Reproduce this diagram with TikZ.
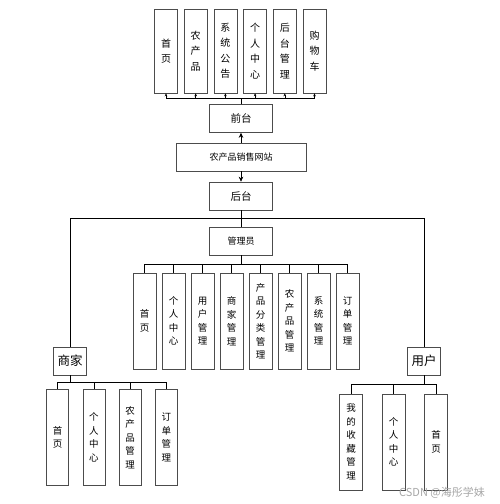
\documentclass[tikz,border=0pt]{standalone}
\usepackage{fontspec}
\setmainfont{Noto Sans CJK SC}
\usetikzlibrary{positioning,ext.paths.ortho,arrows.meta}

\begin{document}
\begin{tikzpicture}[
    x=1pt,y=-1pt,on grid,>={Stealth[length=5pt,width=4.5pt]},
    line width=.6pt,
    smallarrow/.style={-{Stealth[length=3pt,width=2.6pt]}},
    topbox/.style={draw=black!70,minimum width=23pt,minimum height=84pt,inner sep=0pt,align=center,font=\fontsize{10}{15.5}\selectfont},
    colbox/.style={draw=black!70,minimum width=23pt,minimum height=96pt,inner sep=0pt,align=center,font=\fontsize{9.5}{13.5}\selectfont},
    mainbox/.style={draw=black!70,minimum width=63pt,minimum height=28pt,inner sep=0pt,font=\fontsize{10.5}{12}\selectfont},
    rolebox/.style={draw=black!70,minimum width=33pt,minimum height=28pt,inner sep=0pt,font=\fontsize{12.5}{14}\selectfont}
]
    \useasboundingbox (0,0) rectangle (499,504);
    %Middle column
    \node[mainbox,minimum width=130pt,font=\fontsize{9}{11}\selectfont] (web) at (241,157) {农产品销售网站};
    \node[mainbox,above=38.5pt of web] (qian) {前台};
    \node[mainbox,below=39pt of web] (hou) {后台};
    \node[mainbox,below=45pt of hou,font=\fontsize{9}{11}\selectfont] (admin) {管理员};
    \draw[->] (web) -- (qian);
    \draw[->] (web) -- (hou);
    \draw (hou) -- (admin);
    %Front pages
    \node[topbox,above left=67.5pt and 75pt of qian] (F-1) {首\\页};
    \node[topbox,right=29.7pt of F-1] (F-2) {农\\产\\品};
    \node[topbox,right=29.7pt of F-2] (F-3) {系\\统\\公\\告};
    \node[topbox,right=29.7pt of F-3] (F-4) {个\\人\\中\\心};
    \node[topbox,right=29.7pt of F-4] (F-5) {后\\台\\管\\理};
    \node[topbox,right=29.7pt of F-5] (F-6) {购\\物\\车};
    \draw[smallarrow] (qian.north) |-| (F-1.south);
    \draw[smallarrow] (qian.north) |-| (F-2.south);
    \draw[smallarrow] (qian.north) |-| (F-3.south);
    \draw[smallarrow] (qian.north) |-| (F-4.south);
    \draw[smallarrow] (qian.north) |-| (F-5.south);
    \draw[smallarrow] (qian.north) |-| (F-6.south);
    %Admin pages
    \node[colbox,below left=80pt and 96.5pt of admin] (A-1) {首\\页};
    \node[colbox,right=29pt of A-1] (A-2) {个\\人\\中\\心};
    \node[colbox,right=29pt of A-2] (A-3) {用\\户\\管\\理};
    \node[colbox,right=29pt of A-3] (A-4) {商\\家\\管\\理};
    \node[colbox,right=29pt of A-4] (A-5) {产\\品\\分\\类\\管\\理};
    \node[colbox,right=29pt of A-5] (A-6) {农\\产\\品\\管\\理};
    \node[colbox,right=29pt of A-6] (A-7) {系\\统\\管\\理};
    \node[colbox,right=29pt of A-7] (A-8) {订\\单\\管\\理};
    \draw (admin.south) |-| (A-1.north);  \draw (admin.south) |-| (A-2.north);
    \draw (admin.south) |-| (A-3.north);  \draw (admin.south) |-| (A-4.north);
    \draw (admin.south) |-| (A-5.north);  \draw (admin.south) |-| (A-6.north);
    \draw (admin.south) |-| (A-7.north);  \draw (admin.south) |-| (A-8.north);
    %Roles
    \node[rolebox,below left=165pt and 171pt of hou] (shang) {商家};
    \node[rolebox,below right=165pt and 183pt of hou] (user) {用户};
    \draw (hou.south) |-|[ratio=0.058] (shang.north);
    \draw (hou.south) |-|[ratio=0.058] (user.north);
    %Merchant pages
    \node[colbox,minimum width=22pt,below left=76.5pt and 12.5pt of shang] (S-1) {首\\页};
    \node[colbox,minimum width=22pt,right=36.3pt of S-1] (S-2) {个\\人\\中\\心};
    \node[colbox,minimum width=22pt,right=36.3pt of S-2] (S-3) {农\\产\\品\\管\\理};
    \node[colbox,minimum width=22pt,right=36.3pt of S-3] (S-4) {订\\单\\管\\理};
    \draw (shang.south) |-| (S-1.north);  \draw (shang.south) |-| (S-2.north);
    \draw (shang.south) |-| (S-3.north);  \draw (shang.south) |-| (S-4.north);
    %User pages
    \node[colbox,below left=81pt and 73pt of user] (U-1) {我\\的\\收\\藏\\管\\理};
    \node[colbox,right=42.5pt of U-1] (U-2) {个\\人\\中\\心};
    \node[colbox,right=42.5pt of U-2] (U-3) {首\\页};
    \draw (user.south) |-| (U-1.north);  \draw (user.south) |-| (U-2.north);
    \draw (user.south) |-| (U-3.north);
    \node[text=black!35,font=\fontsize{11}{13}\selectfont] (mark) at (442,493) {CSDN @海彤学妹};
\end{tikzpicture}
\end{document}
